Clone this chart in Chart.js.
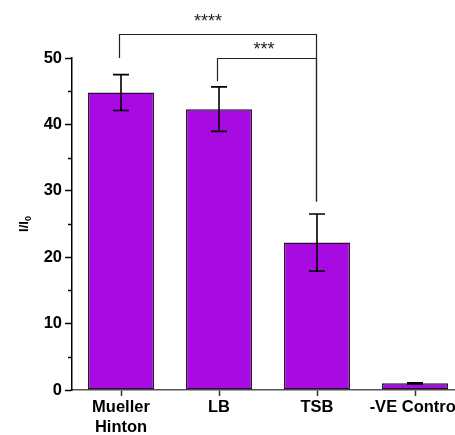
<!DOCTYPE html>
<html>
<head>
<meta charset="utf-8">
<script src="https://cdn.jsdelivr.net/npm/chart.js@4"></script>
<style>
  html, body { margin: 0; padding: 0; background: #fff; overflow: hidden; }
  #wrap { width: 470px; height: 435px; }
</style>
</head>
<body>
<div id="wrap"><canvas id="c" width="470" height="435"></canvas></div>
<script>
// Growth media compared by signal ratio I/I0 (mean ± SD)
const categories = [['Mueller', 'Hinton'], 'LB', 'TSB', '-VE Control'];
const meanRatio = [44.8, 42.3, 22.2, 1.0];
const sdRatio = [2.7, 3.35, 4.3, 0.1];
const yTickValues = [0, 10, 20, 30, 40, 50];
const yMinorValues = [5, 15, 25, 35, 45];

// Significance brackets: from / to category, bracket level, end drops, star label
const bracketFrom = [0, 1];
const bracketTo = [2, 2];
const bracketLevel = [53.6, 50];
const bracketLeftEnd = [50, 46.5];
const bracketRightEnd = [28.4, 28.4];
const bracketLabel = ['****', '***'];
const bracketLabelLevel = [54.6, 50.4];
const bracketLabelShift = [-10, -3];

const BAR_FILL = '#a80ae2';
const BAR_EDGE = '#2c0a3a';
const FONT = '"Liberation Sans", Arial, sans-serif';

const errorBars = {
  id: 'errorBars',
  afterDatasetsDraw(chart) {
    const ctx = chart.ctx;
    const y = chart.scales.y;
    const meta = chart.getDatasetMeta(0);
    ctx.save();
    ctx.strokeStyle = '#000';
    ctx.lineWidth = 1.6;
    meta.data.forEach((bar, i) => {
      const x = bar.x;
      const top = y.getPixelForValue(meanRatio[i] + sdRatio[i]);
      const bot = y.getPixelForValue(meanRatio[i] - sdRatio[i]);
      ctx.beginPath();
      ctx.moveTo(x, top); ctx.lineTo(x, bot);
      ctx.moveTo(x - 8, top); ctx.lineTo(x + 8, top);
      ctx.moveTo(x - 8, bot); ctx.lineTo(x + 8, bot);
      ctx.stroke();
    });
    ctx.restore();
  }
};

const annotations = {
  id: 'annotations',
  afterDraw(chart) {
    const ctx = chart.ctx;
    const x = chart.scales.x;
    const y = chart.scales.y;
    ctx.save();
    // minor ticks on the value axis
    ctx.strokeStyle = '#000';
    ctx.lineWidth = 1.5;
    yMinorValues.forEach(v => {
      const py = Math.round(y.getPixelForValue(v)) + 0.5;
      ctx.beginPath();
      ctx.moveTo(chart.chartArea.left, py);
      ctx.lineTo(chart.chartArea.left - 4, py);
      ctx.stroke();
    });
    // significance brackets
    ctx.strokeStyle = '#222';
    ctx.lineWidth = 1.2;
    ctx.fillStyle = '#222';
    ctx.font = '18px ' + FONT;
    ctx.textAlign = 'center';
    ctx.textBaseline = 'alphabetic';
    bracketFrom.forEach((a, i) => {
      const xa = x.getPixelForValue(a) - 1.5;
      const xb = x.getPixelForValue(bracketTo[i]) - 0.5;
      const yl = Math.round(y.getPixelForValue(bracketLevel[i])) + 0.5;
      ctx.beginPath();
      ctx.moveTo(xa, y.getPixelForValue(bracketLeftEnd[i]));
      ctx.lineTo(xa, yl);
      ctx.lineTo(xb, yl);
      ctx.lineTo(xb, y.getPixelForValue(bracketRightEnd[i]));
      ctx.stroke();
      ctx.fillText(bracketLabel[i], (xa + xb) / 2 + bracketLabelShift[i], y.getPixelForValue(bracketLabelLevel[i]));
    });
    // value axis title: I/I0 with subscript
    const cy = (chart.chartArea.top + chart.chartArea.bottom) / 2;
    ctx.translate(28, cy);
    ctx.rotate(-Math.PI / 2);
    ctx.fillStyle = '#000';
    ctx.textAlign = 'left';
    const main = 'I/I';
    ctx.font = 'bold 13px ' + FONT;
    const wMain = ctx.measureText(main).width;
    ctx.font = 'bold 9px ' + FONT;
    const wSub = ctx.measureText('0').width;
    const start = -(wMain + wSub) / 2;
    ctx.font = 'bold 13px ' + FONT;
    ctx.fillText(main, start, 0);
    ctx.font = 'bold 9px ' + FONT;
    ctx.fillText('0', start + wMain, 3);
    ctx.restore();
  }
};

new Chart(document.getElementById('c'), {
  type: 'bar',
  data: {
    labels: categories,
    datasets: [{
      data: meanRatio,
      backgroundColor: BAR_FILL,
      borderColor: BAR_EDGE,
      borderWidth: 1.5,
      borderSkipped: false,
      categoryPercentage: 1,
      barPercentage: 0.673
    }]
  },
  options: {
    responsive: false,
    animation: false,
    devicePixelRatio: 1,
    layout: { padding: { top: 58, right: 6, left: 0, bottom: 0 } },
    plugins: { legend: { display: false }, tooltip: { enabled: false } },
    scales: {
      x: {
        grid: { display: true, drawOnChartArea: false, offset: false, tickLength: 6, tickColor: '#333', tickWidth: 1.5 },
        border: { display: true, color: '#555', width: 1.5 },
        ticks: {
          color: '#000',
          padding: 2,
          maxRotation: 0,
          autoSkip: false,
          font: { family: FONT, size: 16.5, weight: 'bold', lineHeight: 1.2 }
        },
        afterFit(s) { s.height = 45; }
      },
      y: {
        min: 0,
        max: 50,
        afterBuildTicks(s) { s.ticks = yTickValues.map(v => ({ value: v })); },
        grid: { display: true, drawOnChartArea: false, tickLength: 7, tickColor: '#000', tickWidth: 1.5 },
        border: { display: true, color: '#000', width: 1.5 },
        ticks: {
          color: '#000',
          padding: 3,
          font: { family: FONT, size: 16.5, weight: 'bold' }
        },
        afterFit(s) { s.width = 72; }
      }
    }
  },
  plugins: [errorBars, annotations]
});
</script>
</body>
</html>
